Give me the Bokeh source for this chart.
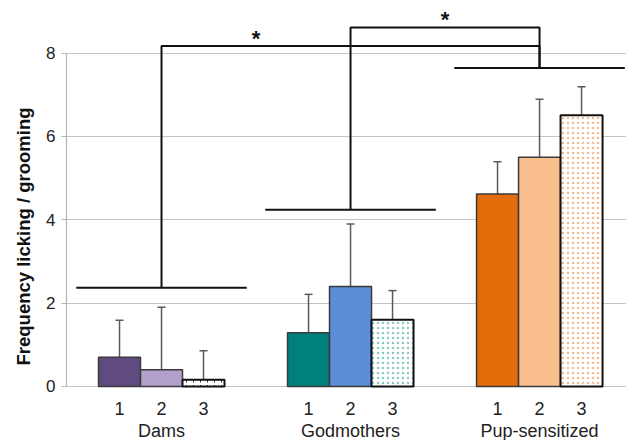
from bokeh.plotting import figure
from bokeh.models import Range1d, FixedTicker, Whisker, ColumnDataSource, TeeHead, Title
from bokeh.embed import file_html
from bokeh.resources import INLINE
from bokeh.core.properties import value

# ---- data ----
groups = ["Dams", "Godmothers", "Pup-sensitized"]
sub_labels = ["1", "2", "3"]
dams = [0.70, 0.40, 0.16]
dams_err = [0.89, 1.50, 0.70]
godmothers = [1.29, 2.40, 1.60]
godmothers_err = [0.92, 1.50, 0.70]
pup = [4.62, 5.50, 6.51]
pup_err = [0.77, 1.39, 0.68]
group_levels = [2.37, 4.24, 7.64]      # significance group lines
bracket_tops = [8.17, 8.61]            # comparison bracket heights
y_ticks = [0, 2, 4, 6, 8]
y_title = "Frequency licking / grooming"

# ---- styles ----
FONT = "Liberation Sans"
solid_colors = ["#5F4B80", "#B1A0C9", None, "#00807C", "#5A8ED6", None, "#E46C0A", "#F9BF8F", None]
hatch_colors = [None, None, "#333333", None, None, "#8CC8C4", None, None, "#F3BC92"]
hatch_patterns = [None, None, "vertical_dash", None, None, "dot", None, None, "dot"]

values = dams + godmothers + pup
errs = dams_err + godmothers_err + pup_err
gap = 4.5
xs = [g * gap + i + 1 for g in range(3) for i in range(3)]
centers = [g * gap + 2 for g in range(3)]

p = figure(width=626, height=440, x_range=Range1d(-0.262, 13.07), y_range=Range1d(-1.296, 9.26),
           output_backend="svg", toolbar_location=None, x_axis_type=None,
           min_border_left=66, min_border_right=0, min_border_top=0, min_border_bottom=0)
p.outline_line_color = None
p.background_fill_color = "white"
p.border_fill_color = "white"

# grid
p.xgrid.visible = False
p.ygrid.ticker = FixedTicker(ticks=y_ticks)
p.ygrid.grid_line_color = "#c4c4c4"
p.ygrid.grid_line_width = 1.2

# y axis (line, ticks, numbers)
ya = p.yaxis[0]
ya.ticker = FixedTicker(ticks=y_ticks)
ya.bounds = (0, 8)
ya.axis_line_color = "#b5b5b5"
ya.axis_line_width = 1.2
ya.major_tick_line_color = "#b5b5b5"
ya.major_tick_out = 5
ya.major_tick_in = 0
ya.minor_tick_line_color = None
ya.major_label_text_font = FONT
ya.major_label_text_font_size = "17px"
ya.major_label_text_color = "#222222"
ya.major_label_standoff = 6

# y title as a left-side title
t = Title(text=y_title, align="left", offset=75, standoff=19, text_font=FONT,
          text_font_style="bold", text_font_size="18.5px", text_color="#111111")
p.add_layout(t, "left")

# x labels (below baseline)
p.text(x=xs, y=[0] * 9, text=[sub_labels[k % 3] for k in range(9)], y_offset=22,
       text_align="center", text_baseline="middle", text_font=value(FONT),
       text_font_size="18px", text_color="#222222")
p.text(x=centers, y=[0] * 3, text=groups, y_offset=45,
       text_align="center", text_baseline="middle", text_font=value(FONT),
       text_font_size="18px", text_color="#222222")

# bars
solid_idx = [k for k in range(9) if solid_colors[k]]
hatch_idx = [k for k in range(9) if hatch_colors[k]]
src_s = ColumnDataSource(dict(x=[xs[k] for k in solid_idx], top=[values[k] for k in solid_idx],
                              color=[solid_colors[k] for k in solid_idx]))
p.vbar(x="x", top="top", bottom=0, width=1, fill_color="color", line_color="#3a3a3a",
       line_width=1.5, source=src_s)
for k in hatch_idx:
    dot = hatch_patterns[k] == "dot"
    p.vbar(x=[xs[k]], top=[values[k]], bottom=0, width=1, fill_color="white",
           line_color="#111111", line_width=2, hatch_pattern=hatch_patterns[k],
           hatch_color=hatch_colors[k], hatch_scale=5 if dot else 7,
           hatch_weight=0.5 if dot else 1)

# error bars (upper only)
src_e = ColumnDataSource(dict(x=xs, lower=values, upper=[v + e for v, e in zip(values, errs)]))
w = Whisker(source=src_e, base="x", lower="lower", upper="upper", dimension="height",
            line_color="#5a5a5a", line_width=1.5,
            upper_head=TeeHead(size=8, line_color="#5a5a5a", line_width=1.5), lower_head=None)
p.add_layout(w)

# significance lines
half = 2.03
for c, lvl in zip(centers, group_levels):
    p.line([c - half, c + half], [lvl, lvl], line_color="#111111", line_width=2)
for src_g, top in zip([0, 1], bracket_tops):
    p.line([centers[src_g], centers[src_g], centers[2], centers[2]],
           [group_levels[src_g], top, top, group_levels[2]],
           line_color="#111111", line_width=2)

star_x = [(centers[0] + centers[1]) / 2, (centers[1] + centers[2]) / 2]
star_y = [t_ + 0.19 for t_ in bracket_tops]
p.text(x=star_x, y=star_y, text=["*", "*"], text_align="center", text_baseline="middle",
       text_font=value(FONT), text_font_size="22px", text_font_style="bold", text_color="#111111")

open("out.html", "w").write(file_html(p, INLINE))
